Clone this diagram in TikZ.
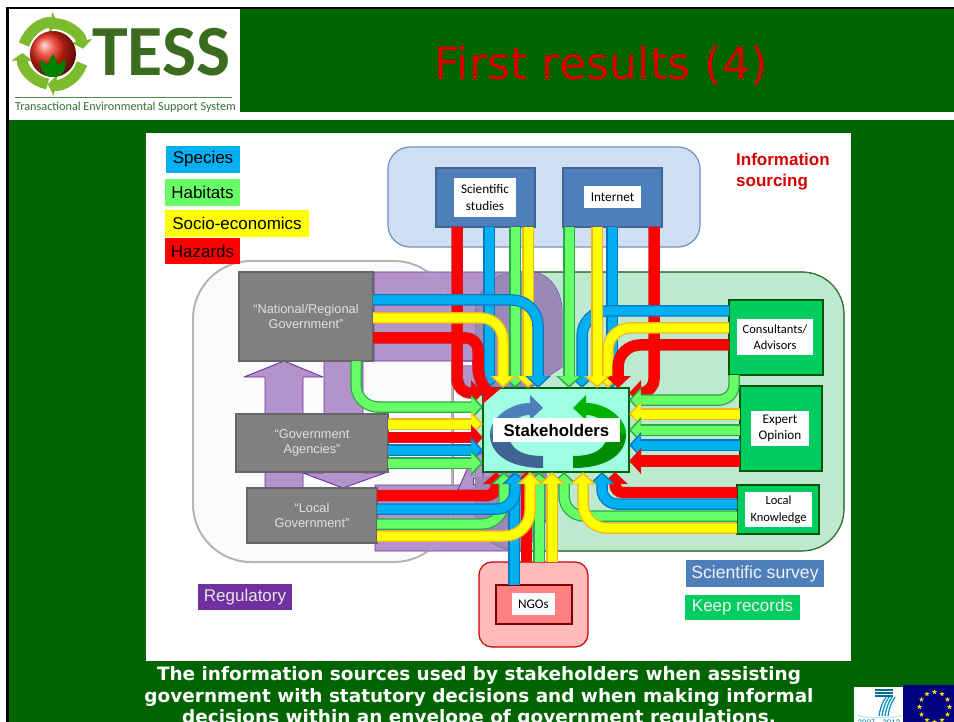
\documentclass[tikz,border=0pt]{standalone}
\usepackage{fontspec}
\setmainfont{Liberation Sans}
\newfontfamily\verd{DejaVu Sans}
\newfontfamily\cali{Carlito}
\usetikzlibrary{arrows.meta,calc}
\definecolor{slidegreen}{HTML}{006400}
\definecolor{cyanc}{HTML}{00B0F0}
\definecolor{cyane}{HTML}{0A78C0}
\definecolor{grnc}{HTML}{66FF66}
\definecolor{grne}{HTML}{2BA84A}
\definecolor{yelc}{HTML}{FFFF00}
\definecolor{yele}{HTML}{F2B422}
\definecolor{redc}{HTML}{FF0000}
\definecolor{rede}{HTML}{E01010}
\definecolor{purp}{HTML}{B294CB}
\definecolor{purpd}{HTML}{7030A0}
\definecolor{purpo}{HTML}{9A88B8}
\definecolor{mintg}{HTML}{BDE9CF}
\definecolor{bluegrp}{HTML}{CFDEF1}
\definecolor{bluebox}{HTML}{4F7FBA}
\definecolor{greenbox}{HTML}{00CC60}
\definecolor{logog}{HTML}{3A6B1E}
\definecolor{ringg}{HTML}{7DBB2E}
\tikzset{
  px/.style={x=1pt,y=-1pt},
  legend/.style={font=\fontsize{17}{20}\selectfont,inner sep=0pt,outer sep=0pt,text=black,anchor=center},
  grpbox/.style={line width=1.2pt},
  srcbox/.style={draw,inner sep=0pt,outer sep=0pt,line width=1.2pt},
  bluesrc/.style={srcbox,fill=bluebox,draw=bluebox!80!black},
  greensrc/.style={srcbox,fill=greenbox,draw=green!35!black},
  graysrc/.style={srcbox,fill=black!50,draw=black!60,text=black!12,align=center,font=\fontsize{12.8}{15.5}\selectfont},
  whitelab/.style={fill=white,inner sep=0pt,outer sep=0pt,align=center,text=black,font=\cali\fontsize{13.2}{16.5}\selectfont},
  flowout/.style={line width=11.5pt,rounded corners=22pt,-{Triangle[length=12pt,width=25pt]}},
  flowin/.style={line width=9pt,rounded corners=22pt,shorten >=2.2pt,-{Triangle[length=9.5pt,width=20pt]}},
  purpshape/.style={fill=purp,draw=purpd,line width=0.9pt,line join=round},
  captionline/.style={anchor=base,text=white,font=\verd\bfseries\fontsize{18.45}{22}\selectfont,inner sep=0pt},
}
\newcommand{\flw}[3]{\draw[flowout,#1] #3;\draw[flowin,#2] #3;}
\newcommand{\flowc}[1]{\flw{cyane}{cyanc}{#1}}
\newcommand{\flowg}[1]{\flw{grne}{grnc}{#1}}
\newcommand{\flowy}[1]{\flw{yele}{yelc}{#1}}
\newcommand{\flowr}[1]{\flw{rede}{redc}{#1}}
\begin{document}
\begin{tikzpicture}[px]
\useasboundingbox (0,0) rectangle (954,722);
\clip (0,0) rectangle (954,722);
\fill[white] (0,0) rectangle (954,722);
% slide
\fill[slidegreen] (6,7) rectangle (954,722);
\fill[black] (6,7) rectangle (9,722);
\fill[black] (6,7) rectangle (954,9);
\fill[white] (240,112) rectangle (954,120);
\fill[white] (9,9) rectangle (240,120);
\node[anchor=base,text=red!85!black,font=\verd\fontsize{44.4}{50}\selectfont,inner sep=0pt] (title) at (601,80) {First results (4)};
% logo
\foreach \a in {-162,-92,18,100}{
  \draw[ringg,line width=11pt,-{Triangle[length=8pt,width=21pt]}] ($(53,54)+(\a:30.5)$) arc[start angle=\a,delta angle=82,radius=30.5];
}
\shade[ball color=red!70!brown] (53,54) circle (23pt);
\fill[green!50!black] (53,77) .. controls (42,77) and (39,67) .. (41,60) .. controls (45,62) and (47,64) .. (48,65) .. controls (49,61) and (51,57) .. (53,54) .. controls (55,57) and (57,61) .. (58,65) .. controls (59,64) and (61,62) .. (65,60) .. controls (67,67) and (64,77) .. (53,77) -- cycle;
\node[anchor=base west,text=logog,font=\cali\bfseries\fontsize{72}{73}\selectfont,inner sep=0pt] (tess) at (92,76) {TESS};
\draw[green!35!black!70!white,line width=1pt] (15,98) -- (232,98);
\node[anchor=base west,text=green!30!black!80!white,font=\cali\fontsize{12.2}{13}\selectfont,inner sep=0pt] (tag) at (15,111) {Transactional Environmental Support System};
% white diagram panel
\fill[white] (146,133) rectangle (851,661);
% groups
\draw[grpbox,fill=bluegrp,draw=bluebox!85!white,rounded corners=22pt] (388,147) rectangle (700,247);
\draw[grpbox,fill=mintg,draw=green!40!black,rounded corners=42pt] (475,272) rectangle (844,551);
\draw[fill=black!1.5,draw=black!28,line width=2pt,rounded corners=58pt] (193,261) rectangle (452,562);
% purple regulatory shape
\path[purpshape] (374,272) -- (530,272) .. controls (550,272) and (562,292) .. (562,312) -- (562,367) -- (530,388) -- (483,388) -- (482,373) -- (463,365) -- (472,365) -- (472,361) -- (374,361) -- cycle;
\path[purpshape] (375,485) -- (483,485) -- (483,472) -- (546,472) -- (547,510) .. controls (547,530) and (530,551) .. (510,551) -- (375,551) -- cycle;
\path[purpshape] (458,490) -- (472,458) -- (483,452) -- (483,490) -- cycle;
\path[purpshape] (458,361) -- (472,361) -- (483,395) -- (467,395) -- cycle;
\fill[white] (459,362) rectangle (472,365);
\fill[mintg] (472,396) rectangle (483,452);
\fill[white,draw=purpd,line width=.6pt] (473,478) rectangle (482,484);
% overlap of regulatory and survey groups
\begin{scope}
\clip[rounded corners=42pt] (475,272) rectangle (844,551);
\fill[purpo] (374,272) -- (530,272) .. controls (550,272) and (562,292) .. (562,312) -- (562,367) -- (530,388) -- (483,388) -- (482,373) -- (475,370) -- (374,361) -- cycle;
\fill[purpo] (375,485) -- (546,472) -- (547,510) .. controls (547,530) and (530,551) .. (510,551) -- (375,551) -- cycle;
\draw[black!55,line width=.8pt,rounded corners=42pt] (475,272) rectangle (844,551);
\end{scope}
\draw[black!40,line width=.8pt] (453,300) -- (453,520);
% vertical purple arrows
\path[purpshape] (265,488) -- (265,377) -- (244,377) -- (284,361) -- (323,377) -- (303,377) -- (303,488) -- cycle;
\path[purpshape] (324,361) -- (324,473) -- (303,473) -- (343,488) -- (385,473) -- (363,473) -- (363,361) -- cycle;
\draw[black!30,opacity=.5,line width=1pt,rounded corners=58pt] (193,261) rectangle (452,562);
% sources
\node[bluesrc,minimum width=99pt,minimum height=59pt] (sci) at (485.5,197.5) {};
\node[whitelab,minimum width=62pt,minimum height=39pt] (scit) at (485,197.5) {Scientific\\studies};
\node[bluesrc,minimum width=99pt,minimum height=59pt] (int) at (612.5,197.5) {};
\node[whitelab,minimum width=57pt,minimum height=22pt] (intt) at (612.5,197) {Internet};
\node[greensrc,minimum width=94pt,minimum height=75pt] (con) at (776,337.5) {};
\node[whitelab,font=\cali\fontsize{12.5}{16.5}\selectfont,minimum width=76pt,minimum height=36pt] (cont) at (775,337) {Consultants/\\Advisors};
\node[greensrc,minimum width=82pt,minimum height=85pt] (exp) at (781,428.5) {};
\node[whitelab,minimum width=58pt,minimum height=35pt] (expt) at (780,428.5) {Expert\\Opinion};
\node[greensrc,minimum width=82pt,minimum height=49pt] (loc) at (778,509.5) {};
\node[whitelab,font=\cali\fontsize{12.5}{16.5}\selectfont,minimum width=67pt,minimum height=35pt] (loct) at (778.5,509.5) {Local\\Knowledge};
\node[graysrc,minimum width=134pt,minimum height=89pt] (nat) at (306,316.5) {“National/Regional\\Government”};
\node[graysrc,minimum width=152pt,minimum height=58pt] (age) at (312,443) {“Government\\Agencies”};
\node[graysrc,minimum width=130pt,minimum height=55pt] (lcl) at (312,515.5) {“Local\\Government”};
% NGO group
\draw[grpbox,fill=red!27!white,draw=red!80!black,rounded corners=13pt] (479,562) rectangle (588,647);
\node[srcbox,fill=red!50!white,draw=red!50!black,minimum width=76pt,minimum height=39pt] (ngo) at (534,604.5) {};
\node[whitelab,minimum width=43pt,minimum height=22pt] (ngot) at (533.5,604) {NGOs};
% stakeholders box
\node[draw=green!40!black,fill=green!30!cyan!38!white,line width=1.4pt,minimum width=146pt,minimum height=84pt,inner sep=0pt,outer sep=0pt] (sh) at (556,430) {};
% flows from scientific studies and the internet
\flowr{[rounded corners=14pt] (sci.south -| 457,0) -- (457,393) -- (sh.west |- 0,393)}
\flowc{(sci.south -| 489,0) -- (sh.north -| 489,0)}
\flowg{(sci.south -| 515,0) -- (sh.north -| 515,0)}
\flowy{(sci.south -| 528,0) -- (sh.north -| 528,0)}
\flowc{(int.south -| 612,0) -- (sh.north -| 612,0)}
\flowr{[rounded corners=14pt] (int.south -| 654,0) -- (654,393) -- (sh.east |- 0,393)}
% consultants
\flowc{[rounded corners=25pt] (con.west |- 0,311) -- (582,311) -- (sh.north -| 582,0)}
\flowy{(con.west |- 0,328) -- (608,328) -- (sh.north -| 608,0)}
\flowr{(con.west |- 0,345) -- (618,345) -- (sh.north -| 618,0)}
\flowg{[rounded corners=15pt] (con.south -| 734,0) -- (734,400) -- (sh.east |- 0,400)}
\flowg{(int.south -| 569,0) -- (sh.north -| 569,0)}
\flowy{(int.south -| 597,0) -- (sh.north -| 597,0)}
% national government
\flowr{[rounded corners=12pt] (nat.east |- 0,338) -- (478,338) -- (478,380) -- (484,387)}
\flowc{[rounded corners=26pt] (nat.east |- 0,300) -- (538,300) -- (sh.north -| 538,0)}
\flowy{(nat.east |- 0,318) -- (503,318) -- (sh.north -| 503,0)}
\flowg{(nat.south -| 356,0) -- (356,407) -- (sh.west |- 0,407)}
% agencies
\flowy{(age.east |- 0,424) -- (sh.west |- 0,424)}
\flowr{(age.east |- 0,437.5) -- (sh.west |- 0,437.5)}
\flowc{(age.east |- 0,450) -- (sh.west |- 0,450)}
\flowg{(age.east |- 0,463) -- (sh.west |- 0,463)}
% expert
\flowy{(exp.west |- 0,414) -- (sh.east |- 0,414)}
\flowg{(exp.west |- 0,430) -- (sh.east |- 0,430)}
\flowc{(exp.west |- 0,445) -- (sh.east |- 0,445)}
\flowr{(exp.west |- 0,461) -- (sh.east |- 0,461)}
% local knowledge
\flowr{[rounded corners=8pt] (loc.west |- 0,492.5) -- (615,492.5) -- (sh.south -| 615,0)}
\flowc{[rounded corners=15pt] (loc.west |- 0,504) -- (602,504) -- (sh.south -| 602,0)}
\flowg{[rounded corners=20pt] (loc.west |- 0,516) -- (564,516) -- (sh.south -| 564,0)}
\flowy{[rounded corners=24pt] (loc.west |- 0,528) -- (583,528) -- (sh.south -| 583,0)}
% NGOs
\flowc{(ngo.north -| 514,562) -- (sh.south -| 514,0)}
\flowr{(526.5,562) -- (sh.south -| 526.5,0)}
\flowg{(539,562) -- (sh.south -| 539,0)}
\flowy{(552,562) -- (sh.south -| 552,0)}
% local government
\flowr{[rounded corners=9pt] (lcl.east |- 0,495.5) -- (496,495.5) -- (sh.south -| 496,0)}
\flowg{[rounded corners=22pt] (lcl.east |- 0,524) -- (504,524) -- (sh.south -| 504,0)}
\flowc{[rounded corners=18pt] (lcl.east |- 0,509) -- (515,509) -- (sh.south -| 515,0)}
\flowy{[rounded corners=25pt] (lcl.east |- 0,536) -- (530,536) -- (sh.south -| 530,0)}
% stakeholder crescents
\fill[bluebox!80!black] (543,468) .. controls (510,468) and (490,455) .. (490,434) -- (508,434) .. controls (510,448) and (520,456) .. (543,456) -- cycle;
\fill[bluebox] (490,434) .. controls (490,418) and (510,403) .. (530,403) -- (530,395) -- (543,408) -- (530,420) -- (530,415) .. controls (518,415) and (510,422) .. (508,434) -- cycle;
\fill[green!55!black] (573,468) .. controls (606,468) and (626,455) .. (626,434) -- (608,434) .. controls (606,448) and (596,456) .. (573,456) -- cycle;
\fill[green!70!black] (626,434) .. controls (626,418) and (606,403) .. (586,403) -- (586,395) -- (573,408) -- (586,420) -- (586,415) .. controls (598,415) and (606,422) .. (608,434) -- cycle;
\node[fill=white,inner sep=0pt,outer sep=0pt,minimum width=127pt,minimum height=24pt,font=\bfseries\fontsize{16.8}{18}\selectfont] (shl) at (556.5,430) {Stakeholders};
% legends
\node[legend,fill=cyanc,minimum width=74pt,minimum height=27pt] (l1) at (203,159.5) {Species};
\node[legend,fill=grnc,minimum width=75pt,minimum height=27pt] (l2) at (202.5,192.5) {Habitats};
\node[legend,fill=yelc,minimum width=144pt,minimum height=27pt] (l3) at (237,223.5) {Socio-economics};
\node[legend,fill=redc,minimum width=75pt,minimum height=26pt] (l4) at (202.5,251) {Hazards};
\node[legend,fill=purpd,text=black!10,minimum width=94pt,minimum height=26pt] (l5) at (245,597) {Regulatory};
\node[legend,fill=bluebox,text=black!5,font=\fontsize{17.6}{20}\selectfont,minimum width=138pt,minimum height=27pt] (l6) at (755,573.5) {Scientific survey};
\node[legend,fill=greenbox,text=black!5,minimum width=115pt,minimum height=25pt] (l7) at (742.5,607.5) {Keep records};
\node[anchor=north west,align=left,text=red!85!black,font=\bfseries\fontsize{17}{21}\selectfont,inner sep=0pt] (info) at (736,153) {Information\\sourcing};
% caption
\node[captionline] (c1) at (479,680) {The information sources used by stakeholders when assisting};
\node[captionline] (c2) at (479,702) {government with statutory decisions and when making informal};
\node[captionline] (c3) at (479,723.5) {decisions within an envelope of government regulations.};
% FP7 and EU logos
\fill[white] (854,687) rectangle (903,722);
\foreach \s in {689,692,695}{\fill[cyanc!60!black] (875,\s) rectangle (893,\s+2);}
\foreach \d in {0,3,6,9}{\draw[cyanc!80!black,line width=1.2pt] (895-\d,697) .. controls (891-\d,703) and (889-\d,709) .. (888-\d,716);}
\fill[cyanc!25] (858,715) .. controls (870,718) and (888,718) .. (901,715) -- (901,716.5) .. controls (888,719) and (870,719) .. (858,716.5) -- cycle;
\node[anchor=base,text=cyanc!70!black,font=\fontsize{8}{9}\selectfont,inner sep=0pt] (fp) at (879,725) {2007 - 2013};
\fill[blue!50!black] (903,685) rectangle (954,722);
\foreach \i in {0,30,...,330}{
  \fill[yellow!90!orange] ($(934.5,707)+(\i:15)+(-90:2.7)$) -- ($(934.5,707)+(\i:15)+(54:2.7)$) -- ($(934.5,707)+(\i:15)+(198:2.7)$) -- ($(934.5,707)+(\i:15)+(-18:2.7)$) -- ($(934.5,707)+(\i:15)+(126:2.7)$) -- cycle;
}
\end{tikzpicture}
\end{document}
